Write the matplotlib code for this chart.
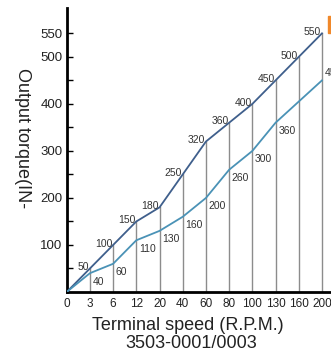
import matplotlib
matplotlib.use("Agg")
import matplotlib.pyplot as plt
from matplotlib.patches import Rectangle

plt.rcParams['font.family'] = ['Liberation Sans', 'DejaVu Sans']

# terminal speed categories (R.P.M.)
speeds = ["0", "3", "6", "12", "20", "40", "60", "80", "100", "130", "160", "200"]
# output torque, upper and lower curves
torque_high = [0, 50, 100, 150, 180, 250, 320, 360, 400, 450, 500, 550]
torque_low = [0, 40, 60, 110, 130, 160, 200, 260, 300, 360, 405, 450]
labels_high = ["", "50", "100", "150", "180", "250", "320", "360", "400", "450", "500", "550"]
labels_low = ["", "40", "60", "110", "130", "160", "200", "260", "300", "360", "", "450"]

fig = plt.figure(figsize=(3.31, 3.55), dpi=100)
ax = fig.add_axes([66.7 / 331, 1 - 292 / 355, 1 - 66.7 / 331, (292 - 8) / 355])

xs = list(range(len(speeds)))

# drop lines from the axis up to the upper curve
for x, v in zip(xs[1:], torque_high[1:]):
    ax.plot([x, x], [0, v], color="#8c8c8c", lw=1.0, zorder=1)

ax.plot(xs, torque_high, color="#3f5f8c", lw=1.3, zorder=3)
ax.plot(xs, torque_low, color="#4a92b6", lw=1.3, zorder=3)

for x, v, t in zip(xs, torque_high, labels_high):
    if t:
        ax.annotate(t, (x, v), xytext=(-0.5, 1), textcoords="offset points",
                    ha="right", va="center", fontsize=7.5, color="#333333")

for i, (x, v, t) in enumerate(zip(xs, torque_low, labels_low)):
    if not t:
        continue
    if i == len(xs) - 1:
        ax.annotate(t, (x, v), xytext=(2, 2), textcoords="offset points",
                    ha="left", va="bottom", fontsize=7.5, color="#333333")
    else:
        ax.annotate(t, (x, v), xytext=(2, -6), textcoords="offset points",
                    ha="left", va="center", fontsize=7.5, color="#333333")

ax.set_xlim(0, 11.39)
ax.set_ylim(0, 604)
ax.set_xticks(xs)
ax.set_xticklabels(speeds, fontsize=8.5, color="#222222")
ax.tick_params(axis="x", length=0, pad=4)
ax.set_yticks([100, 200, 300, 400, 500, 550])
ax.set_yticks([50, 150, 250, 350, 450], minor=True)
ax.tick_params(axis="y", which="both", direction="in", length=4, width=1,
               labelsize=9.5, labelcolor="#222222", pad=3)

for s in ["top", "right"]:
    ax.spines[s].set_visible(False)
ax.spines["left"].set_linewidth(2)
ax.spines["bottom"].set_linewidth(2)

fig.text(188 / 331, 1 - 325 / 355, "Terminal speed (R.P.M.)", fontsize=13,
         ha="center", va="center", color="#222222")
fig.text(191 / 331, 1 - 344 / 355, "3503-0001/0003", fontsize=13,
         ha="center", va="center", color="#222222")
fig.text(22 / 331, 1 - 138 / 355, "Output torque(IN-", fontsize=13,
         rotation=-90, ha="center", va="center", color="#222222")

# legend swatch cut at the right edge
fig.patches.append(Rectangle((328 / 331, 1 - 33 / 355), 5 / 331, 17 / 355,
                             transform=fig.transFigure, color="#f0882a",
                             clip_on=False))

fig.savefig("out.png", dpi=100)
